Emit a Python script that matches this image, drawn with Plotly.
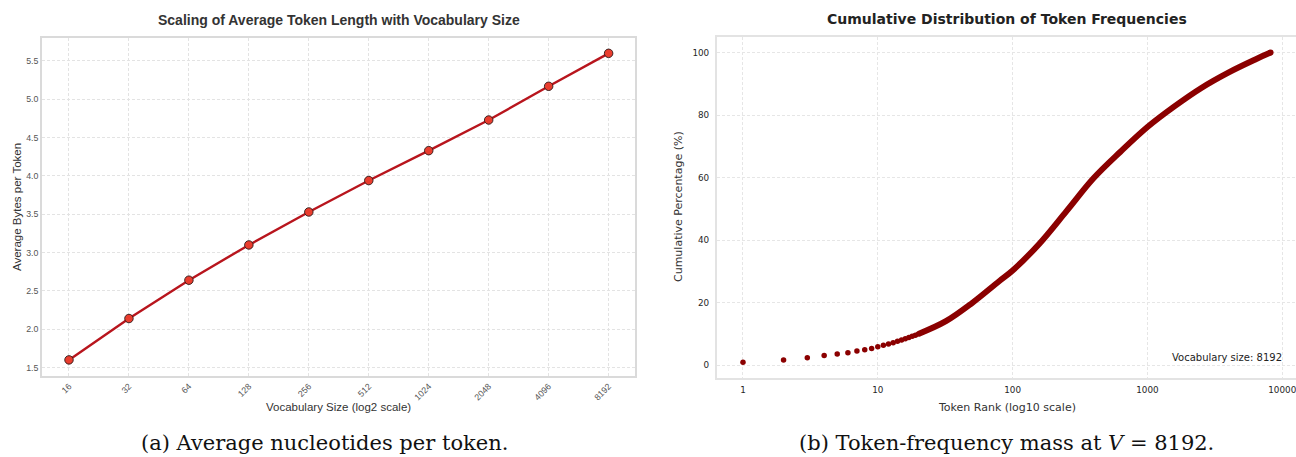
import plotly.graph_objects as go

W, H = 1296, 457

# (a) average token length per vocabulary size
vocab_sizes = [16, 32, 64, 128, 256, 512, 1024, 2048, 4096, 8192]
avg_bytes = [1.60, 2.14, 2.64, 3.10, 3.53, 3.94, 4.33, 4.73, 5.17, 5.60]
bytes_ticks = [1.5, 2.0, 2.5, 3.0, 3.5, 4.0, 4.5, 5.0, 5.5]

# (b) cumulative frequency mass by token rank
head_ranks = list(range(1, 21))
head_cum_pct = [0.96, 1.7, 2.4, 3.1, 3.6, 4.0, 4.6, 5.0, 5.4, 5.9,
                6.4, 6.8, 7.2, 7.7, 8.1, 8.5, 8.9, 9.3, 9.6, 10.0]
tail_ranks = [20, 32, 50, 79, 100, 158, 251, 398, 631, 1000, 1585, 2512,
              3981, 6310, 8192]
tail_cum_pct = [10.0, 14.1, 19.9, 26.8, 30.3, 38.9, 49.3, 59.8, 68.3, 76.2,
                82.8, 88.7, 93.6, 97.8, 100.0]
rank_ticks = [1, 10, 100, 1000, 10000]
pct_ticks = [0, 20, 40, 60, 80, 100]

LEFT_FONT = "Liberation Sans, Arial, sans-serif"
RIGHT_FONT = "DejaVu Sans, sans-serif"
CAP_FONT = "DejaVu Serif, serif"


def px(x):
    return x / W


def py(y):
    return 1 - y / H


fig = go.Figure()

fig.add_trace(go.Scatter(
    x=vocab_sizes, y=avg_bytes, mode="lines+markers",
    line=dict(color="#b8151d", width=2.4),
    marker=dict(size=8.5, color="#ea3d2e", line=dict(color="#2a1a1a", width=0.9)),
    xaxis="x", yaxis="y", showlegend=False,
))

fig.add_trace(go.Scatter(
    x=tail_ranks, y=tail_cum_pct, mode="lines",
    line=dict(color="#8b0000", width=6, shape="spline", smoothing=1.0),
    xaxis="x2", yaxis="y2", showlegend=False,
))
fig.add_trace(go.Scatter(
    x=head_ranks, y=head_cum_pct, mode="markers",
    marker=dict(size=5.5, color="#8b0000"),
    xaxis="x2", yaxis="y2", showlegend=False,
))
fig.add_trace(go.Scatter(
    x=[tail_ranks[-1]], y=[tail_cum_pct[-1]], mode="markers",
    marker=dict(size=6, color="#8b0000"),
    xaxis="x2", yaxis="y2", showlegend=False,
))

grid_l = dict(showgrid=True, gridcolor="#e3e3e3", gridwidth=0.8, griddash="3px,2px",
              zeroline=False, showline=True, linecolor="#dadada", linewidth=1.6, mirror=True)
grid_r = dict(showgrid=True, gridcolor="#e6e6e6", gridwidth=0.8, griddash="3px,2px",
              zeroline=False, showline=True, linecolor="#e3e3e3", linewidth=1.5)

lx0, lx1 = 1.0686, 4.0459
fig.update_layout(
    width=W, height=H, margin=dict(l=0, r=0, t=0, b=0),
    paper_bgcolor="white", plot_bgcolor="white",
    xaxis=dict(domain=[px(42), px(635)], type="log", range=[lx0, lx1],
               tickvals=vocab_sizes, ticktext=[str(v) for v in vocab_sizes],
               tickangle=-45, tickfont=dict(family=LEFT_FONT, size=8.8, color="#555555"),
               anchor="y", **grid_l),
    yaxis=dict(domain=[py(376), py(38)], range=[1.39, 5.80], tickvals=bytes_ticks,
               ticktext=[f"{v:.1f}" for v in bytes_ticks],
               tickfont=dict(family=LEFT_FONT, size=8.8, color="#555555"),
               anchor="x", **grid_l),
    xaxis2=dict(domain=[px(716.7), 1.0], type="log", range=[-0.195, 4.102],
                tickvals=rank_ticks, ticktext=[str(v) for v in rank_ticks],
                tickfont=dict(family=RIGHT_FONT, size=8.8, color="#262626"),
                ticklabeloverflow="allow",
                anchor="y2", mirror=True, ticks="outside", ticklen=3,
                tickcolor="rgba(0,0,0,0)", **grid_r),
    yaxis2=dict(domain=[py(377.7), py(37.3)], range=[-3.97, 104.9], tickvals=pct_ticks,
                tickfont=dict(family=RIGHT_FONT, size=8.8, color="#262626"),
                anchor="x2", ticks="outside", ticklen=4, tickcolor="rgba(0,0,0,0)",
                **grid_r),
)

ann = [
    dict(text="<b>Scaling of Average Token Length with Vocabulary Size</b>",
         x=px(338.5), y=py(20), font=dict(family=LEFT_FONT, size=14, color="#333333")),
    dict(text="Vocabulary Size (log2 scale)", x=px(338.5), y=py(407),
         font=dict(family=LEFT_FONT, size=11.5, color="#333333")),
    dict(text="Average Bytes per Token", x=px(17), y=py(207), textangle=-90,
         font=dict(family=LEFT_FONT, size=11.5, color="#333333")),
    dict(text="<b>Cumulative Distribution of Token Frequencies</b>",
         x=px(1006.7), y=py(19), font=dict(family=RIGHT_FONT, size=14, color="#222222")),
    dict(text="Token Rank (log10 scale)", x=px(1006.7), y=py(407),
         font=dict(family=RIGHT_FONT, size=11, color="#333333")),
    dict(text="Cumulative Percentage (%)", x=px(678), y=py(207), textangle=-90,
         font=dict(family=RIGHT_FONT, size=11, color="#333333")),
    dict(text="Vocabulary size: 8192", x=px(1284), y=py(357.5), xanchor="right",
         font=dict(family=RIGHT_FONT, size=10, color="#222222")),
    dict(text="(a) Average nucleotides per token.", x=px(324), y=py(443),
         font=dict(family=CAP_FONT, size=21, color="#111111")),
    dict(text="(b) Token-frequency mass at <i>V</i> = 8192.", x=px(1006), y=py(443),
         font=dict(family=CAP_FONT, size=21, color="#111111")),
]
for a in ann:
    a.setdefault("xanchor", "center")
    a.update(xref="paper", yref="paper", yanchor="middle", showarrow=False)
fig.update_layout(annotations=ann)

fig.write_html("out.html")
